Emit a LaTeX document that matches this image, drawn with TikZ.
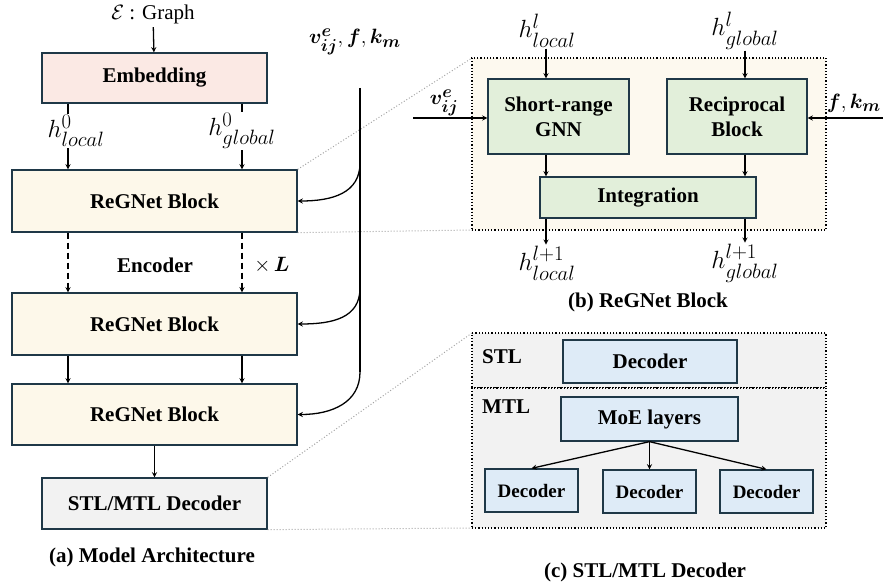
\documentclass[tikz,border=0pt]{standalone}
\usepackage{fontspec}
\setmainfont{Liberation Serif}
\usepackage{amsmath}
\usepackage{amssymb}
\DeclareMathSizes{26}{26}{20}{15}
\DeclareMathSizes{22}{22}{17}{13}
\usetikzlibrary{arrows,positioning,calc}
\definecolor{edgeblue}{RGB}{31,56,71}
\definecolor{embedpink}{RGB}{251,233,228}
\definecolor{blockcream}{RGB}{253,248,234}
\definecolor{panelcream}{RGB}{253,249,239}
\definecolor{gnngreen}{RGB}{226,239,218}
\definecolor{decblue}{RGB}{222,235,247}
\definecolor{panelgray}{RGB}{242,242,242}
\definecolor{zoomgray}{RGB}{165,165,165}

\begin{document}
\begin{tikzpicture}[x=1pt, y=-1pt,
    module/.style={rectangle, draw=edgeblue, line width=1.3pt, fill=#1, align=center,
                   inner sep=0pt, font=\fontsize{21}{25}\selectfont\bfseries},
    panel/.style={rectangle, draw=black, dotted, line width=1.2pt, fill=#1, inner sep=0pt},
    arrow/.style={->, line width=1.3pt, >=stealth},
    mathlbl/.style={inner sep=1pt, font=\fontsize{26}{28}\selectfont},
    featlbl/.style={inner sep=1pt, font=\fontsize{22}{24}\selectfont},
    boldtext/.style={inner sep=1pt, font=\fontsize{21}{23}\selectfont\bfseries},
    zoomline/.style={draw=zoomgray, dotted, line width=1pt}
]
\useasboundingbox (0,0) rectangle (883,588);

% Input graph and embedding
\node[font=\fontsize{21}{23}\selectfont] (graph) at (153,14) {$\mathcal{E}$ : Graph};
\node[module=embedpink, minimum width=225, minimum height=50] (embed) at (154.5,78) {Embedding};
\draw[arrow] (graph) -- (embed);

% Encoder blocks
\node[module=blockcream, minimum width=285, minimum height=62] (reg1) at (154.5,201) {ReGNet Block};
\node[module=blockcream, minimum width=285, minimum height=62] (reg2) at (154.5,324) {ReGNet Block};
\node[module=blockcream, minimum width=285, minimum height=61] (reg3) at (154.5,414.5) {ReGNet Block};
\node[module=panelgray, minimum width=225, minimum height=51] (dec) at (154.5,503.5) {STL/MTL Decoder};

% Zoom guides
\draw[zoomline] (reg1.north east) -- (472,58);
\draw[zoomline] (reg1.south east) -- (472,230);
\draw[zoomline] (dec.north east) -- (472,333);
\draw[zoomline] (dec.south east) -- (472,528);

% Embedding outputs
\coordinate (lx) at (68,0);
\coordinate (gx) at (242,0);
\node[mathlbl] (hloc0) at (76,131) {$h^{0}_{local}$};
\node[mathlbl] (hglo0) at (242,131) {$h^{0}_{global}$};
\draw[line width=1.3pt] (embed.south -| lx) -- (lx |- hloc0.north);
\draw[line width=1.3pt] (embed.south -| gx) -- (gx |- hglo0.north);
\draw[arrow] (lx |- hloc0.south) -- (reg1.north -| lx);
\draw[arrow] (gx |- hglo0.south) -- (reg1.north -| gx);

% Stacked layers
\draw[arrow, dash pattern=on 6pt off 4pt] (reg1.south -| lx) -- (reg2.north -| lx);
\draw[arrow, dash pattern=on 6pt off 4pt] (reg1.south -| gx) -- (reg2.north -| gx);
\node[boldtext] (enc) at (155,265) {Encoder};
\node[font=\fontsize{21}{23}\selectfont] (times) at (272,265) {$\times\,\boldsymbol{L}$};
\draw[arrow] (reg2.south -| lx) -- (reg3.north -| lx);
\draw[arrow] (reg2.south -| gx) -- (reg3.north -| gx);
\draw[arrow] (reg3) -- (dec);

% Edge and field features
\node[featlbl] (feat) at (355,42) {$\boldsymbol{v^{e}_{ij}}, \boldsymbol{f}, \boldsymbol{k_{m}}$};
\coordinate (feattop) at (360,88);
\coordinate (tap1) at (360,163);
\coordinate (tap2) at (360,288);
\coordinate (tap3) at (360,372);
\draw[line width=1.3pt] (feattop) -- (tap3);
\draw[arrow] (tap1) .. controls +(0,30) and +(35,0) .. (reg1.east);
\draw[arrow] (tap2) .. controls +(0,30) and +(35,0) .. (reg2.east);
\draw[arrow] (tap3) .. controls +(0,30) and +(35,0) .. (reg3.east);

\node[boldtext] (capa) at (152,557) {(a) Model Architecture};

% ReGNet block detail
\node[panel=panelcream, minimum width=354, minimum height=172] (regpanel) at (649,144) {};
\node[module=gnngreen, minimum width=141, minimum height=75] (gnn) at (558.5,116.5) {Short-range\\GNN};
\node[module=gnngreen, minimum width=140, minimum height=75] (recip) at (737,116.5) {Reciprocal\\Block};
\node[module=gnngreen, minimum width=216, minimum height=41] (integ) at (648,197.5) {Integration};

\coordinate (bl) at (546,0);
\coordinate (bg) at (745,0);
\node[mathlbl] (hlocl) at (547,31) {$h^{l}_{local}$};
\node[mathlbl] (hglol) at (745,31) {$h^{l}_{global}$};
\draw[arrow] (hlocl.south -| bl) -- (gnn.north -| bl);
\draw[arrow] (hglol.south -| bg) -- (recip.north -| bg);
\draw[arrow] (gnn.south -| bl) -- (integ.north -| bl);
\draw[arrow] (recip.south -| bg) -- (integ.north -| bg);
\node[mathlbl] (hlocn) at (547,263) {$h^{l+1}_{local}$};
\node[mathlbl] (hglon) at (745,263) {$h^{l+1}_{global}$};
\draw[arrow] (integ.south -| bl) -- (hlocn.north -| bl);
\draw[arrow] (integ.south -| bg) -- (hglon.north -| bg);

\node[featlbl] (vij) at (444,103) {$\boldsymbol{v^{e}_{ij}}$};
\coordinate (vin) at (413,118);
\draw[arrow] (vin) -- (vin -| gnn.west);
\node[featlbl, anchor=east] (fk) at (882,103) {$\boldsymbol{f}, \boldsymbol{k_{m}}$};
\coordinate (fin) at (883,118);
\draw[arrow] (fin) -- (fin -| recip.east);

\node[boldtext] (capb) at (648,302) {(b) ReGNet Block};

% Decoder detail
\node[panel=panelgray, minimum width=354, minimum height=55] (stlpanel) at (649,360.5) {};
\node[panel=panelgray, minimum width=354, minimum height=140] (mtlpanel) at (649,458) {};
\node[boldtext, anchor=west] (stl) at (481,357) {STL};
\node[boldtext, anchor=west] (mtl) at (481,407) {MTL};
\node[module=decblue, minimum width=174, minimum height=43] (stldec) at (650,361.5) {Decoder};
\node[module=decblue, minimum width=177, minimum height=44] (moe) at (649.5,419) {MoE layers};
\node[module=decblue, minimum width=93, minimum height=43, font=\fontsize{19}{21}\selectfont\bfseries] (dec1) at (531.5,490.5) {Decoder};
\node[module=decblue, minimum width=93, minimum height=43, font=\fontsize{19}{21}\selectfont\bfseries] (dec2) at (649.5,491.5) {Decoder};
\node[module=decblue, minimum width=93, minimum height=43, font=\fontsize{19}{21}\selectfont\bfseries] (dec3) at (766.5,491.5) {Decoder};
\draw[arrow] (moe.south) -- (dec1.north);
\draw[arrow] (moe.south) -- (dec2.north);
\draw[arrow] (moe.south) -- (dec3.north);

\node[boldtext] (capc) at (645,572) {(c) STL/MTL Decoder};

\end{tikzpicture}
\end{document}
